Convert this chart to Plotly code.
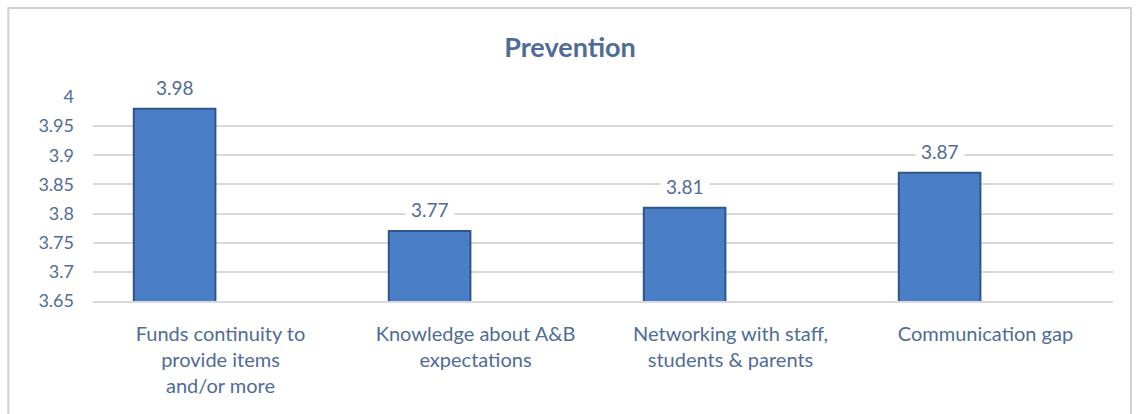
import plotly.graph_objects as go

categories = [
    "Funds continuity to<br>provide items<br>and/or more",
    "Knowledge about A&B<br>expectations",
    "Networking with staff,<br>students & parents",
    "Communication gap",
]
values = [3.98, 3.77, 3.81, 3.87]
tick_vals = [3.65, 3.7, 3.75, 3.8, 3.85, 3.9, 3.95, 4.0]
tick_text = ["3.65", "3.7", "3.75", "3.8", "3.85", "3.9", "3.95", "4"]

text_color = "#4F6C98"
font_family = "Lato, 'Open Sans', sans-serif"

fig = go.Figure()
fig.add_trace(go.Bar(
    x=list(range(len(categories))),
    y=values,
    width=0.32,
    offset=-0.34,
    marker=dict(color="#4A7FC8", line=dict(color="#2E5688", width=2)),
    hoverinfo="skip",
))

# value labels on white boxes above each bar
for i, v in enumerate(values):
    fig.add_annotation(
        x=i - 0.18, y=v, xref="x", yref="y",
        text=f"{v:.2f}", showarrow=False, yanchor="bottom", yshift=4,
        font=dict(family=font_family, size=19, color=text_color),
        bgcolor="white", borderpad=5,
    )

# chart frame
fig.add_shape(type="rect", xref="paper", yref="paper",
              x0=-0.083, x1=1.0176, y0=-0.56, y1=1.436,
              line=dict(color="#D0D0D0", width=2), fillcolor="rgba(0,0,0,0)",
              layer="below")

fig.update_layout(
    width=1140, height=414,
    margin=dict(l=93, r=27, t=97, b=113),
    paper_bgcolor="white", plot_bgcolor="white",
    showlegend=False,
    title=dict(text="<b>Prevention</b>", x=0.5, xanchor="center",
               y=1 - 48 / 414, yanchor="middle",
               font=dict(family=font_family, size=27, color=text_color)),
    xaxis=dict(
        range=[-0.5, 3.5], tickvals=list(range(len(categories))),
        ticktext=categories, showgrid=False, zeroline=False,
        showline=True, linecolor="#D9D9D9", linewidth=2,
        ticks="", ticklabelstandoff=14,
        tickfont=dict(family=font_family, size=20, color=text_color),
    ),
    yaxis=dict(
        range=[3.65, 4.0], tickvals=tick_vals, ticktext=tick_text,
        showgrid=True, gridcolor="#D9D9D9", gridwidth=2,
        zeroline=False, showline=False, ticks="", ticklabelstandoff=18,
        tickfont=dict(family=font_family, size=18, color=text_color),
    ),
)

fig.write_html("out.html")
